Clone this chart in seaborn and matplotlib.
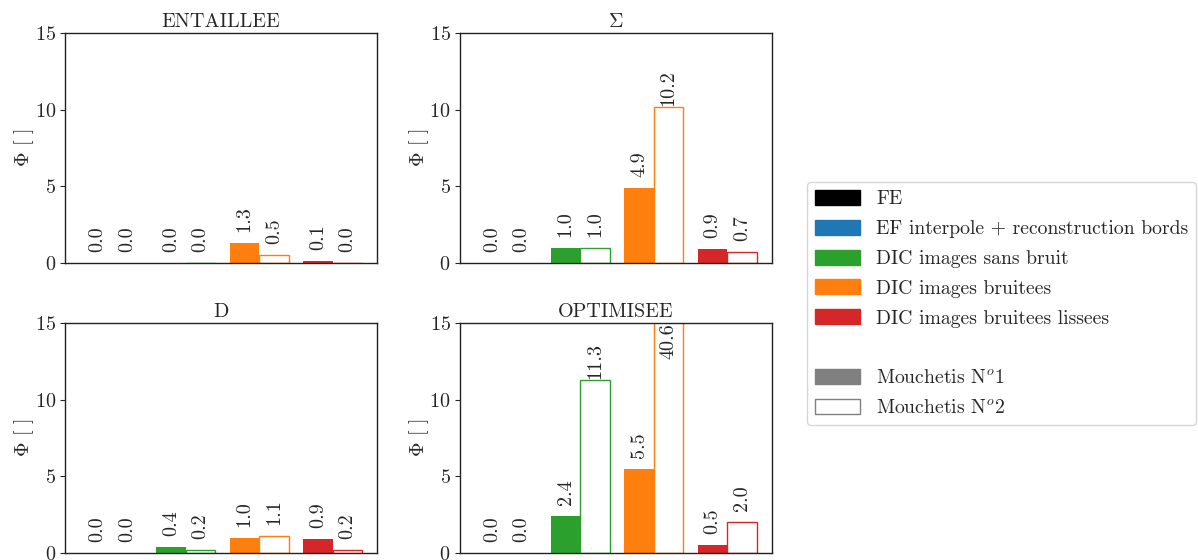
import pandas as pd
import matplotlib
matplotlib.use('Agg')
import matplotlib.pyplot as plt
import matplotlib.patches as mpatches
import seaborn as sns

# panels and methods
panels = ['ENTAILLEE', r'$\Sigma$', 'D', 'OPTIMISEE']
methods = ['EF interpole + reconstruction bords', 'DIC images sans bruit',
           'DIC images bruitees', 'DIC images bruitees lissees']
colors = ['#1f77b4', '#2ca02c', '#ff7f0e', '#d62728']
mouchetis = [r'Mouchetis N$^o$1', r'Mouchetis N$^o$2']

# Phi values (Mouchetis 1 / Mouchetis 2)
entaillee_m1 = [0.0, 0.0, 1.3, 0.1]
entaillee_m2 = [0.0, 0.0, 0.5, 0.0]
sigma_m1 = [0.0, 1.0, 4.9, 0.9]
sigma_m2 = [0.0, 1.0, 10.2, 0.7]
d_m1 = [0.0, 0.4, 1.0, 0.9]
d_m2 = [0.0, 0.2, 1.1, 0.2]
optim_m1 = [0.0, 2.4, 5.5, 0.5]
optim_m2 = [0.0, 11.3, 40.6, 2.0]

values = {
    panels[0]: (entaillee_m1, entaillee_m2),
    panels[1]: (sigma_m1, sigma_m2),
    panels[2]: (d_m1, d_m2),
    panels[3]: (optim_m1, optim_m2),
}

rows = []
for p, (v1, v2) in values.items():
    for m, a, b in zip(methods, v1, v2):
        rows.append({'panel': p, 'method': m, 'mouchetis': mouchetis[0], 'phi': a})
        rows.append({'panel': p, 'method': m, 'mouchetis': mouchetis[1], 'phi': b})
df = pd.DataFrame(rows)

sns.set_style('white')
plt.rcParams['font.family'] = ['cmr10', 'DejaVu Serif']
plt.rcParams['mathtext.fontset'] = 'cm'
plt.rcParams['axes.formatter.use_mathtext'] = True
plt.rcParams['axes.unicode_minus'] = False
plt.rcParams['font.size'] = 14.5
plt.rcParams['axes.edgecolor'] = '#222222'

fs = 14.5
fig, axes = plt.subplots(2, 2, figsize=(11.98, 5.6), dpi=100)
fig.subplots_adjust(left=0.0543, right=0.644, top=0.941, bottom=0.0125,
                    wspace=0.266, hspace=0.261)

ymax = 15
for ax, p in zip(axes.flat, panels):
    sub = df[df['panel'] == p]
    sns.barplot(data=sub, x='method', y='phi', hue='mouchetis', order=methods,
                hue_order=mouchetis, errorbar=None, width=0.8, gap=0,
                legend=False, ax=ax)
    for k, cont in enumerate(ax.containers):
        for j, bar in enumerate(cont):
            c = colors[j]
            if k == 0:
                bar.set_facecolor(c)
                bar.set_edgecolor('none')
                bar.set_linewidth(0)
            else:
                bar.set_facecolor('white')
                bar.set_edgecolor('none' if j == 0 else c)
                bar.set_linewidth(1.0)
            h = values[p][k][j]
            ax.text(bar.get_x() + bar.get_width() / 2, min(h + 2.4, ymax),
                    f'{h:.1f}', rotation=90, ha='center', va='top', fontsize=fs)
    ax.set_xlim(-0.64, 3.6)
    ax.set_ylim(0, ymax)
    ax.set_yticks([0, 5, 10, 15])
    ax.set_xticks([])
    ax.set_xlabel('')
    ax.set_ylabel(r'$\Phi$ [ ]', fontsize=fs, labelpad=-1)
    ax.set_title(p, fontsize=fs, pad=4)
    ax.tick_params(axis='y', left=True, length=3.5, width=0.8, labelsize=fs, pad=3)
    for s in ax.spines.values():
        s.set_linewidth(1.0)

handles = [mpatches.Patch(color='black', label='FE')]
handles += [mpatches.Patch(color=c, label=m) for c, m in zip(colors, methods)]
handles.append(mpatches.Patch(color='none', label=' '))
handles.append(mpatches.Patch(facecolor='gray', edgecolor='gray', label=mouchetis[0]))
handles.append(mpatches.Patch(facecolor='white', edgecolor='gray', label=mouchetis[1]))
fig.legend(handles=handles, loc='center left', bbox_to_anchor=(0.6736, 0.458),
           fontsize=14.2, handlelength=2.3, handleheight=0.8, labelspacing=0.58,
           borderaxespad=0.0)

fig.savefig('out.png', dpi=100)
